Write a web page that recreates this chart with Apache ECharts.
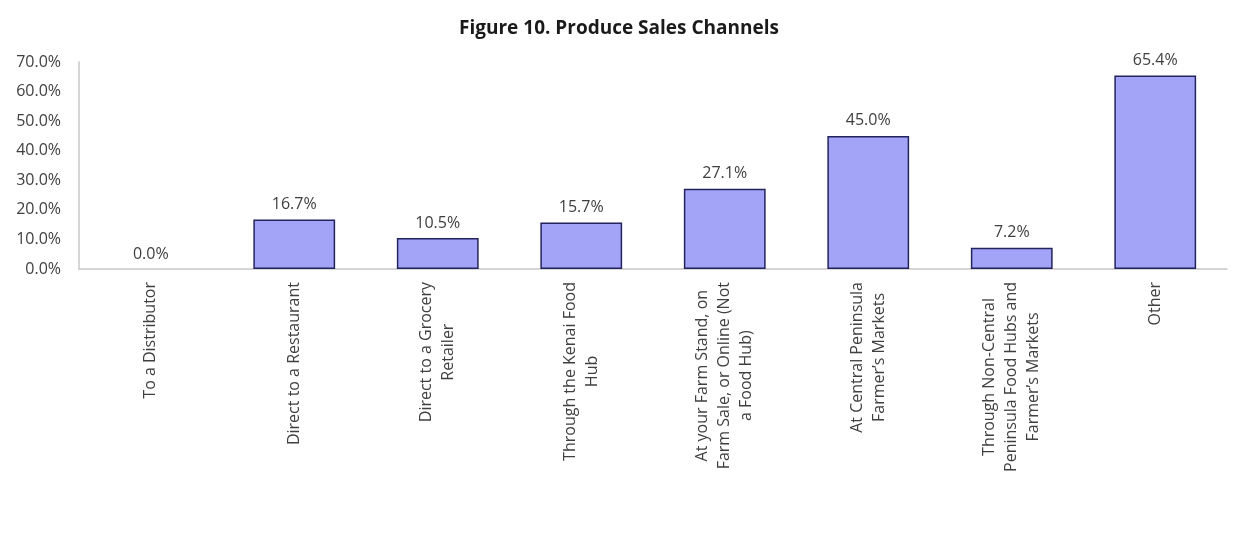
<!DOCTYPE html>
<html>
<head>
<meta charset="utf-8">
<script src="https://cdn.jsdelivr.net/npm/echarts@6/dist/echarts.min.js"></script>
<style>
  html, body { margin: 0; padding: 0; background: #ffffff; }
  #chart { width: 1238px; height: 542px; }
</style>
</head>
<body>
<div id="chart"></div>
<script>
// Sales channels (category axis), with explicit line breaks for the rotated labels
var channels = [
  'To a Distributor',
  'Direct to a Restaurant',
  'Direct to a Grocery\nRetailer',
  'Through the Kenai Food\nHub',
  'At your Farm Stand, on\nFarm Sale, or Online (Not\na Food Hub)',
  'At Central Peninsula\nFarmer\u2019s Markets',
  'Through Non-Central\nPeninsula Food Hubs and\nFarmer\u2019s Markets',
  'Other'
];

// Share of producers using each channel (%)
var shares = [0.0, 16.7, 10.5, 15.7, 27.1, 45.0, 7.2, 65.4];

// Value axis ticks (%)
var yMin = 0, yMax = 70, yStep = 10;

var FONT = '"Open Sans", "Noto Sans", sans-serif';
var chart = echarts.init(document.getElementById('chart'), null, { renderer: 'canvas' });

// Bars with a zero value get no outline, so nothing shows on the axis
var barData = shares.map(function (v) {
  return v === 0 ? { value: v, itemStyle: { borderWidth: 0 } } : v;
});

chart.setOption({
  backgroundColor: '#ffffff',
  animation: false,
  title: {
    text: 'Figure 10. Produce Sales Channels',
    left: 'center',
    top: 14,
    textStyle: { fontFamily: FONT, fontSize: 19, fontWeight: 'bold', color: '#1a1a1a' }
  },
  grid: { left: 79, right: 11, top: 62, bottom: 273 },
  xAxis: {
    type: 'category',
    data: channels,
    axisLine: { lineStyle: { color: '#c8c8c8', width: 1.5 } },
    axisTick: { show: false },
    axisLabel: {
      interval: 0,
      rotate: 90,
      margin: 13,
      fontFamily: FONT,
      fontSize: 16,
      lineHeight: 22,
      color: '#404040',
      // wrap every line in a centred rich token so multi-line labels are centred
      formatter: function (v) {
        return v.split('\n').map(function (s) { return '{c|' + s + '}'; }).join('\n');
      },
      rich: {
        c: { align: 'center', fontFamily: FONT, fontSize: 16, lineHeight: 22, color: '#404040' }
      }
    }
  },
  yAxis: {
    type: 'value',
    min: yMin,
    max: yMax,
    interval: yStep,
    splitLine: { show: false },
    axisLine: { show: true, lineStyle: { color: '#c8c8c8', width: 1.5 } },
    axisTick: { show: false },
    axisLabel: {
      margin: 18,
      fontFamily: FONT,
      fontSize: 16,
      color: '#404040',
      formatter: function (v) { return v.toFixed(1) + '%'; }
    }
  },
  series: [{
    type: 'bar',
    data: barData,
    barWidth: '57%',
    itemStyle: { color: '#a3a3f8', borderColor: '#23235e', borderWidth: 1.5 },
    label: {
      show: true,
      position: 'top',
      distance: 7,
      fontFamily: FONT,
      fontSize: 16,
      color: '#404040',
      formatter: function (p) { return p.value.toFixed(1) + '%'; }
    }
  }]
});
</script>
</body>
</html>
